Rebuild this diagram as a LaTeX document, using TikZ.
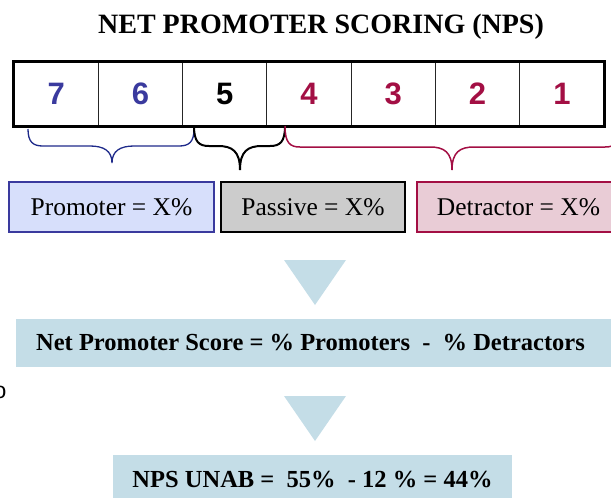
\documentclass[tikz,border=0pt]{standalone}
\usepackage{fontspec}
\setmainfont{Liberation Serif}
\newfontfamily\digitfont{Liberation Sans}
\usetikzlibrary{backgrounds}

\definecolor{promblue}{HTML}{3A3A9E}
\definecolor{bracenavy}{HTML}{1E2A8A}
\definecolor{promfill}{HTML}{D7DFFB}
\definecolor{detred}{HTML}{A30F44}
\definecolor{detfill}{HTML}{E9CCD6}
\definecolor{passfill}{HTML}{CCCCCC}
\definecolor{stepblue}{HTML}{C4DDE7}

% curly brace: options, left x, right x, tip x, end y, flat y, tip y
\newcommand{\scorebrace}[7]{%
  \draw[#1] (#2,#5) .. controls (#2,#6-4) and (#2+5,#6) .. (#2+15,#6)
    -- (#4-22,#6) .. controls (#4-8,#6) and (#4,#6+5) .. (#4,#7)
    .. controls (#4,#6+5) and (#4+8,#6) .. (#4+22,#6)
    -- (#3-15,#6) .. controls (#3-5,#6) and (#3,#6-4) .. (#3,#5);}

\begin{document}
\begin{tikzpicture}[x=1pt,y=-1pt,
    cell/.style={draw=black!85,line width=1.2pt,minimum width=84.29pt,minimum height=64pt,
      inner sep=0pt,font=\digitfont\bfseries\fontsize{31}{36}\selectfont},
    catbox/.style={line width=2pt,minimum height=50pt,inner sep=0pt,text height=16pt,text depth=0pt,
      font=\fontsize{25.5}{30}\selectfont},
    bigtext/.style={font=\bfseries\fontsize{24.5}{30}\selectfont}]
    \useasboundingbox (0,0) rectangle (611,499);

    % Title
    \node[anchor=base,font=\bfseries\fontsize{28}{34}\selectfont] (title) at (321,33) {NET PROMOTER SCORING (NPS)};

    % Draw the score cells
    \foreach \d/\c [count=\i] in {7/promblue,6/promblue,5/black,4/detred,3/detred,2/detred,1/detred}
        \node[cell,text=\c] (cell\i) at ({14+84.29*(\i-0.5)},94) {\d};
    \draw[line width=3pt] (cell1.north west) rectangle (cell7.south east);

    % Add the braces
    \scorebrace{bracenavy,line width=1.3pt}{28}{194}{112}{129}{146}{163}
    \scorebrace{black,line width=2pt}{194}{285}{240}{126}{146}{170}
    \scorebrace{detred,line width=1.5pt}{285}{620}{452}{126}{147}{170}

    % Category boxes
    \node[catbox,draw=promblue,fill=promfill,minimum width=205pt] (promoter) at (111.5,207) {Promoter = X\%};
    \node[catbox,draw=black,fill=passfill,line width=2.5pt,minimum width=184pt] (passive) at (313,207) {Passive = X\%};
    \node[catbox,draw=detred,fill=detfill,minimum width=203pt] (detractor) at (518.5,207) {Detractor = X\%};

    % Down triangles
    \fill[stepblue] (284,260) -- (346,260) -- (315,305) -- cycle;
    \fill[stepblue] (284,396) -- (346,396) -- (315,441) -- cycle;

    % Formula and result
    \node[bigtext,anchor=base] (formula) at (310.5,350) {Net Promoter Score = \% Promoters\ \ -\ \ \% Detractors};
    \begin{scope}[on background layer]
        \fill[stepblue] (16,319) rectangle (620,367);
    \end{scope}
    \node[bigtext,fill=stepblue,minimum width=399pt,minimum height=43pt,inner sep=0pt,
      text height=21pt,text depth=0pt] (result) at (312.5,476.5) {NPS UNAB =\ \ 55\%\ \ - 12 \% = 44\%};

    \node[font=\digitfont\fontsize{23}{26}\selectfont,inner sep=0pt] (cut) at (0,392) {o};
\end{tikzpicture}
\end{document}
